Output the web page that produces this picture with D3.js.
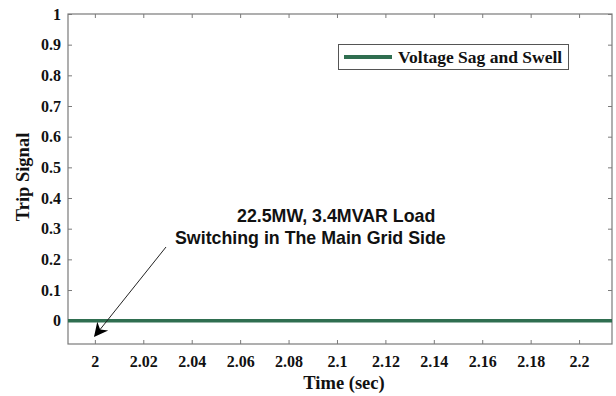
<!DOCTYPE html>
<html>
<head>
<meta charset="utf-8">
<script src="https://cdn.jsdelivr.net/npm/d3@7"></script>
<style>
  html, body { margin: 0; padding: 0; background: #fff; }
  svg { display: block; }
</style>
</head>
<body>
<svg id="chart" width="616" height="396"></svg>
<script>
// Trip signal recorded over the switching interval
const timeSec = [1.9889, 2.05, 2.1, 2.15, 2.2136];
const tripSignal = [0, 0, 0, 0, 0];

const xTicks = [2, 2.02, 2.04, 2.06, 2.08, 2.1, 2.12, 2.14, 2.16, 2.18, 2.2];
const yTicks = [0, 0.1, 0.2, 0.3, 0.4, 0.5, 0.6, 0.7, 0.8, 0.9, 1];
const yDomain = [-0.076, 1];

const seriesName = "Voltage Sag and Swell";
const noteLines = ["22.5MW, 3.4MVAR Load", "Switching in The Main Grid Side"];
const noteTarget = [2, -0.05];

const svg = d3.select("#chart");
const m = { left: 68, right: 4, top: 14, bottom: 52 };
const W = 616, H = 396;
const x = d3.scaleLinear().domain(d3.extent(timeSec)).range([m.left, W - m.right]);
const y = d3.scaleLinear().domain(yDomain).range([H - m.bottom, m.top]);

const serif = "'Liberation Serif', 'Times New Roman', serif";
const sans = "'Liberation Sans', Arial, sans-serif";
const frameColor = "#7a7a7a";
const green = "#2f6e50";

// axes with inward ticks
const fmt = d => String(+d.toFixed(2));
const gx = svg.append("g").attr("transform", `translate(0,${y.range()[0]})`)
  .call(d3.axisBottom(x).tickValues(xTicks).tickSize(-4).tickPadding(12).tickFormat(fmt));
const gy = svg.append("g").attr("transform", `translate(${x.range()[0]},0)`)
  .call(d3.axisLeft(y).tickValues(yTicks).tickSize(-4).tickPadding(7).tickFormat(fmt));
const gxt = svg.append("g").attr("transform", `translate(0,${y.range()[1]})`)
  .call(d3.axisTop(x).tickValues(xTicks).tickSize(-4).tickFormat(""));
const gyr = svg.append("g").attr("transform", `translate(${x.range()[1]},0)`)
  .call(d3.axisRight(y).tickValues(yTicks).tickSize(-4).tickFormat(""));

[gx, gy, gxt, gyr].forEach(g => {
  g.select(".domain").remove();
  g.selectAll(".tick line").attr("stroke", frameColor);
  g.selectAll("text").attr("font-family", serif).attr("font-weight", "bold")
    .attr("font-size", 16).attr("fill", "#111");
});

svg.append("rect")
  .attr("x", x.range()[0]).attr("y", y.range()[1])
  .attr("width", x.range()[1] - x.range()[0]).attr("height", y.range()[0] - y.range()[1])
  .attr("fill", "none").attr("stroke", frameColor).attr("stroke-width", 1.2);

// signal trace
const line = d3.line().x((d, i) => x(timeSec[i])).y(d => y(d));
svg.append("path").datum(tripSignal)
  .attr("d", line).attr("fill", "none").attr("stroke", green).attr("stroke-width", 3.5);

// axis titles
svg.append("text").attr("x", 344).attr("y", 389).attr("text-anchor", "middle")
  .attr("font-family", serif).attr("font-weight", "bold").attr("font-size", 18.5)
  .attr("fill", "#111").text("Time (sec)");
svg.append("text").attr("transform", "translate(29,177) rotate(-90)").attr("text-anchor", "middle")
  .attr("font-family", serif).attr("font-weight", "bold").attr("font-size", 18.5)
  .attr("fill", "#111").text("Trip Signal");

// legend
const lg = svg.append("g");
lg.append("rect").attr("x", 338.5).attr("y", 44.5).attr("width", 230).attr("height", 25)
  .attr("fill", "#fff").attr("stroke", "#555").attr("stroke-width", 1);
lg.append("line").attr("x1", 344).attr("x2", 392).attr("y1", 57).attr("y2", 57)
  .attr("stroke", green).attr("stroke-width", 4);
lg.append("text").attr("x", 398).attr("y", 63)
  .attr("font-family", serif).attr("font-weight", "bold").attr("font-size", 17.5)
  .attr("fill", "#111").text(seriesName);

// annotation with arrow
const defs = svg.append("defs");
defs.append("marker").attr("id", "head").attr("viewBox", "0 0 10 10")
  .attr("refX", 9).attr("refY", 5).attr("markerWidth", 18).attr("markerHeight", 14)
  .attr("markerUnits", "userSpaceOnUse").attr("orient", "auto")
  .append("path").attr("d", "M0,0 L10,5 L0,10 L3,5 Z").attr("fill", "#000");
svg.append("line")
  .attr("x1", 166).attr("y1", 247)
  .attr("x2", x(noteTarget[0])).attr("y2", y(noteTarget[1]))
  .attr("stroke", "#222").attr("stroke-width", 1).attr("marker-end", "url(#head)");
const noteX = [237, 175], noteY = [222, 244];
noteLines.forEach((t, i) => {
  svg.append("text").attr("x", noteX[i]).attr("y", noteY[i])
    .attr("font-family", sans).attr("font-weight", "bold").attr("font-size", 17.8)
    .attr("fill", "#111").text(t);
});
</script>
</body>
</html>
